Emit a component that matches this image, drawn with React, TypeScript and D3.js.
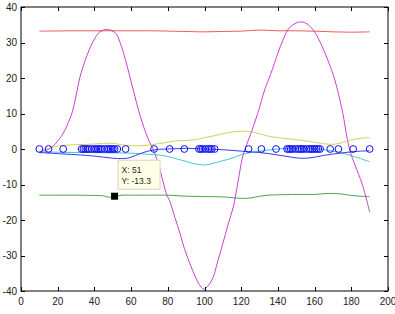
import React, { useEffect, useRef } from 'react';
import * as d3 from 'd3';

// x ticks / y ticks as shown on the axes
const xTicks = [0, 20, 40, 60, 80, 100, 120, 140, 160, 180, 200];
const yTicks = [40, 30, 20, 10, 0, -10, -20, -30, -40];

// red line, near 33
const redLine: [number, number][] = [
  [10, 33.2], [30, 33.3], [50, 33.3], [70, 33.3], [90, 33.1], [100, 33.0], [110, 33.1],
  [120, 33.2], [130, 33.5], [140, 33.3], [150, 33.3], [160, 33.2], [170, 33.0], [180, 32.9], [190, 33.0],
];

// magenta wave
const magentaLine: [number, number][] = [
  [10, -0.8], [14, -0.3], [17, 0.6], [20, 2.2], [23, 4.4], [25, 6.5], [28, 10.5], [30, 15], [32, 20],
  [35, 25], [39, 30], [43, 33], [47, 33.7], [50, 33.2], [52, 32.4], [54, 30], [57, 25], [59.5, 20],
  [62, 15], [64, 11], [67, 6], [70, 2], [72, 0], [75, -4.5], [79.5, -13], [81, -14.6], [84, -19.5],
  [86.6, -23.7], [89, -28], [92, -32.2], [95, -36], [97, -38], [99.5, -39.5], [102, -38.5],
  [104.8, -36], [107, -32], [110, -26.6], [113, -21], [115.7, -16.3], [118, -10], [121, -1.8],
  [125, 4], [129, 10], [133, 17], [136, 21], [140, 27], [143, 31], [146, 34], [150, 35.5],
  [153, 35.8], [156, 35.2], [160, 33], [164, 29], [168, 24], [171, 19.5], [175, 11], [179, 0],
  [182, -4.5], [186, -10], [190, -17.7],
];

// yellow line, just above zero
const yellowLine: [number, number][] = [
  [10, -0.3], [15, 0.2], [20, 0.8], [25, 1.1], [30, 1.2], [35, 1.3], [40, 1.4], [45, 1.6], [50, 1.6],
  [55, 1.2], [60, 0.9], [65, 0.9], [70, 1.1], [75, 1.5], [80, 1.9], [85, 2.3], [90, 2.4], [95, 2.6],
  [100, 3.2], [105, 3.7], [110, 4.3], [115, 4.8], [120, 5.0], [125, 4.9], [130, 4.3], [135, 3.6],
  [140, 3.2], [145, 2.9], [150, 2.6], [155, 2.3], [160, 1.9], [165, 1.5], [170, 1.3], [175, 1.8],
  [180, 2.6], [185, 3.0], [190, 3.2],
];

// cyan line, just below zero
const cyanLine: [number, number][] = [
  [10, -0.8], [20, -0.9], [30, -1.0], [40, -1.0], [50, -1.1], [55, -1.1], [60, -1.2], [65, -1.3],
  [70, -1.5], [75, -1.7], [80, -2.1], [85, -2.8], [90, -3.5], [95, -4.2], [100, -4.5], [105, -4.0],
  [110, -3.3], [115, -2.6], [120, -1.6], [125, -1.0], [130, -0.6], [135, -0.3], [140, 0], [145, 0.2],
  [150, 0.2], [155, 0.2], [160, 0.1], [165, -0.2], [170, -0.6], [175, -1.2], [180, -1.9],
  [185, -2.7], [190, -3.6],
];

// blue line
const blueLine: [number, number][] = [
  [10, -1.0], [20, -1.3], [30, -1.6], [40, -2.0], [45, -2.3], [50, -2.6], [55, -2.7], [58, -2.6],
  [60, -2.3], [65, -1.3], [70, -0.5], [75, -0.1], [80, 0], [85, 0.1], [90, 0.2], [95, 0.1], [100, 0],
  [105, -0.1], [110, -0.2], [115, -0.4], [120, -0.6], [125, -0.8], [130, -1.0], [135, -1.3],
  [140, -1.7], [145, -2.1], [150, -2.5], [155, -2.6], [160, -2.3], [165, -1.8], [170, -1.4],
  [175, -1.1], [180, -0.8], [185, -0.6], [190, -0.5],
];

// green line, around -13
const greenLine: [number, number][] = [
  [10, -13.0], [20, -13.0], [30, -13.0], [40, -13.1], [45, -13.2], [48, -13.6], [51, -13.3],
  [55, -13.0], [60, -13.0], [70, -13.0], [80, -13.0], [90, -13.3], [100, -13.4], [110, -13.5],
  [115, -13.7], [120, -13.9], [125, -13.8], [130, -13.3], [135, -13.0], [140, -12.9], [150, -12.8],
  [160, -12.8], [168, -12.5], [175, -12.7], [180, -13.1], [185, -13.3], [190, -13.4],
];

// blue circle markers, all on y = 0
const markerX = [
  10, 15, 23,
  33, 34, 35, 36, 37, 38.5, 40, 41, 42, 43, 44, 45.5, 47, 48, 49, 50, 51, 52.5, 57,
  72.5, 81, 89,
  97, 98, 99, 100.5, 102, 103, 104, 105.5,
  124, 131, 139,
  145, 146, 147, 148, 149.5, 151, 152, 153, 154, 155.5, 157, 158, 159, 160, 161, 162, 163,
  168.5, 173, 181, 190,
];

// data tip
const tipPoint: [number, number] = [51, -13.3];

const W = 395;
const H = 314;
const margin = { top: 7, right: 7, bottom: 23, left: 21 };

export default function App() {
  const ref = useRef<SVGSVGElement>(null);

  useEffect(() => {
    const svg = d3.select(ref.current);
    svg.selectAll('*').remove();

    const x = d3.scaleLinear().domain([0, 200]).range([margin.left, W - margin.right]);
    const y = d3.scaleLinear().domain([-40, 40]).range([H - margin.bottom, margin.top]);

    const line = d3.line<[number, number]>()
      .x(d => x(d[0]))
      .y(d => y(d[1]))
      .curve(d3.curveCatmullRom.alpha(0.5));

    svg.append('rect').attr('width', W).attr('height', H).attr('fill', '#fff');

    const series: [[number, number][], string][] = [
      [redLine, '#f03c3c'],
      [greenLine, '#2a962a'],
      [magentaLine, '#c020c8'],
      [yellowLine, '#c8c83c'],
      [cyanLine, '#20c0c8'],
      [blueLine, '#1818f0'],
    ];
    series.forEach(([data, color]) => {
      svg.append('path')
        .attr('d', line(data))
        .attr('fill', 'none')
        .attr('stroke', color)
        .attr('stroke-opacity', 0.85)
        .attr('stroke-width', 1);
    });

    svg.append('g')
      .selectAll('circle')
      .data(markerX)
      .enter().append('circle')
      .attr('cx', d => x(d))
      .attr('cy', y(0))
      .attr('r', 3.4)
      .attr('fill', 'none')
      .attr('stroke', '#1010f8')
      .attr('stroke-width', 1);

    // axes box with inward ticks
    const x0 = x(0), x1 = x(200), y0 = y(-40), y1 = y(40);
    const axis = svg.append('g').attr('stroke', '#000').attr('stroke-width', 1).attr('fill', 'none');
    axis.append('rect').attr('x', x0).attr('y', y1).attr('width', x1 - x0).attr('height', y0 - y1);
    const tl = 4;
    xTicks.forEach(t => {
      const px = Math.round(x(t)) + 0.5;
      axis.append('line').attr('x1', px).attr('x2', px).attr('y1', y0).attr('y2', y0 - tl);
      axis.append('line').attr('x1', px).attr('x2', px).attr('y1', y1).attr('y2', y1 + tl);
    });
    yTicks.forEach(t => {
      const py = Math.round(y(t)) + 0.5;
      axis.append('line').attr('x1', x0).attr('x2', x0 + tl).attr('y1', py).attr('y2', py);
      axis.append('line').attr('x1', x1).attr('x2', x1 - tl).attr('y1', py).attr('y2', py);
    });

    const labels = svg.append('g')
      .attr('font-family', '"Liberation Sans", Arial, sans-serif')
      .attr('font-size', 10)
      .attr('fill', '#222');
    xTicks.forEach(t => {
      labels.append('text').attr('x', x(t)).attr('y', y0 + 13.5).attr('text-anchor', 'middle').text(t);
    });
    yTicks.forEach(t => {
      labels.append('text').attr('x', x0 - 4).attr('y', y(t) + 3.6).attr('text-anchor', 'end').text(t);
    });

    // data tip
    const tx = x(tipPoint[0]);
    const ty = y(tipPoint[1]);
    const tip = svg.append('g');
    tip.append('rect')
      .attr('x', tx + 3.5).attr('y', ty - 36).attr('width', 42).attr('height', 29)
      .attr('fill', '#ffffe6').attr('stroke', '#d4d4bc').attr('stroke-width', 1);
    const tipText = tip.append('g')
      .attr('font-family', '"Liberation Sans", Arial, sans-serif')
      .attr('font-size', 8.5)
      .attr('fill', '#222');
    tipText.append('text').attr('x', tx + 7).attr('y', ty - 23).text('X: ' + tipPoint[0]);
    tipText.append('text').attr('x', tx + 7).attr('y', ty - 12.5).text('Y: ' + tipPoint[1]);
    tip.append('rect')
      .attr('x', tx - 3.5).attr('y', ty - 3.5).attr('width', 7).attr('height', 7)
      .attr('fill', '#000');
  }, []);

  return (
    <svg
      ref={ref}
      width={W}
      height={H}
      style={{ position: 'absolute', left: 0, top: 0, display: 'block' }}
    />
  );
}
